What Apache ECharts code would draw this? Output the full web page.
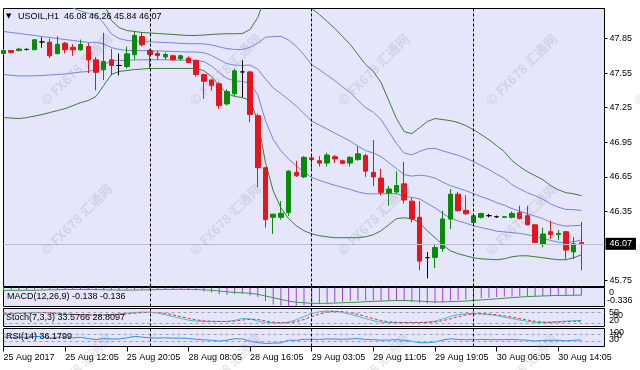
<!DOCTYPE html>
<html><head><meta charset="utf-8">
<script src="https://cdn.jsdelivr.net/npm/echarts@6/dist/echarts.min.js"></script>
<style>html,body{margin:0;padding:0;background:#fff}#c{width:640px;height:370px}</style>
</head><body><div id="c"></div>
<script>
const timeLabels = ['25 Aug 2017','25 Aug 12:05','25 Aug 20:05','28 Aug 08:05','28 Aug 16:05','29 Aug 03:05','29 Aug 11:05','29 Aug 19:05','30 Aug 06:05','30 Aug 14:05'];
const priceTicks = [45.75, 46.35, 46.65, 46.95, 47.25, 47.55, 47.85];
const separators = [19, 40, 61];
const lastPrice = 46.07;

const opens = [47.72,47.745,47.745,47.755,47.752,47.82,47.818,47.72,47.809,47.774,
 47.752,47.78,47.665,47.578,47.665,47.616,47.607,47.71,47.867,47.746,
 47.72,47.69,47.70,47.675,47.68,47.659,47.537,47.49,47.457,47.283,
 47.37,47.56,47.56,47.18,46.73,46.30,46.30,46.34,46.69,46.65,
 46.815,46.79,46.77,46.825,46.79,46.77,46.80,46.835,46.69,46.64,
 46.51,46.52,46.59,46.44,46.30,45.95,45.952,46.03,46.285,46.50,
 46.36,46.255,46.30,46.314,46.305,46.30,46.30,46.34,46.314,46.235,
 46.068,46.175,46.15,46.175,46.00,46.08];
const closes = [47.746,47.73,47.758,47.755,47.839,47.82,47.70,47.80,47.752,47.752,
 47.798,47.665,47.557,47.65,47.616,47.616,47.717,47.876,47.795,47.711,
 47.702,47.711,47.665,47.70,47.642,47.537,47.479,47.442,47.268,47.39,
 47.57,47.56,47.19,46.73,46.28,46.327,46.335,46.70,46.66,46.82,
 46.80,46.77,46.84,46.806,46.768,46.82,46.85,46.70,46.65,46.516,
 46.545,46.575,46.45,46.285,45.92,45.95,46.038,46.285,46.50,46.357,
 46.33,46.314,46.333,46.314,46.305,46.305,46.333,46.29,46.235,46.082,
 46.155,46.15,46.16,46.016,46.07,46.07];
const lows = [47.71,47.72,47.74,47.745,47.75,47.77,47.68,47.71,47.72,47.70,
 47.745,47.55,47.40,47.49,47.53,47.53,47.59,47.665,47.78,47.59,
 47.665,47.665,47.66,47.655,47.635,47.52,47.327,47.40,47.24,47.27,
 47.35,47.34,47.123,46.56,46.21,46.155,46.28,46.31,46.65,46.64,
 46.72,46.74,46.74,46.77,46.76,46.74,46.79,46.65,46.57,46.49,
 46.40,46.50,46.42,46.255,45.84,45.77,45.86,46.00,46.198,46.35,
 46.32,46.24,46.29,46.30,46.295,46.30,46.29,46.28,46.23,46.075,
 46.04,46.11,46.10,45.94,45.94,45.84];
const highs = [47.76,47.75,47.77,47.765,47.845,47.86,47.85,47.87,47.82,47.80,
 47.84,47.81,47.69,47.90,47.76,47.72,47.78,47.913,47.905,47.76,
 47.745,47.73,47.71,47.71,47.695,47.665,47.545,47.50,47.47,47.41,
 47.59,47.66,47.57,47.20,46.73,46.33,46.44,46.71,46.79,46.83,
 46.85,46.83,46.86,46.84,46.80,46.83,46.915,46.85,46.97,46.72,
 46.57,46.70,46.78,46.47,46.44,46.00,46.07,46.357,46.545,46.52,
 46.49,46.33,46.34,46.33,46.315,46.31,46.35,46.40,46.40,46.24,
 46.21,46.27,46.19,46.18,46.13,46.26];

const bbUpper2 = [48.657,48.644,48.631,48.605,48.575,48.544,48.510,48.475,48.440,48.397,
 48.353,48.319,48.284,48.163,48.006,47.945,47.919,47.911,47.902,47.898,
 47.893,47.889,47.885,47.880,47.876,47.876,47.880,47.885,47.889,47.891,
 47.891,47.893,47.928,48.032,48.223,48.310,48.362,48.353,48.301,48.215,
 48.110,48.058,47.998,47.937,47.867,47.798,47.711,47.624,47.564,47.468,
 47.312,47.156,47.043,47.025,47.077,47.130,47.156,47.147,47.138,47.121,
 47.095,47.060,47.017,46.973,46.921,46.869,46.791,46.739,46.695,46.661,
 46.626,46.574,46.539,46.513,46.504,46.487];
const bbUpper1 = [48.284,48.273,48.263,48.245,48.226,48.206,48.185,48.163,48.141,48.115,
 48.089,48.068,48.050,47.983,47.889,47.850,47.833,47.829,47.823,47.821,
 47.818,47.815,47.812,47.808,47.805,47.805,47.803,47.794,47.778,47.762,
 47.755,47.755,47.774,47.809,47.861,47.866,47.868,47.837,47.783,47.707,
 47.622,47.579,47.532,47.484,47.431,47.380,47.314,47.251,47.211,47.147,
 47.043,46.939,46.857,46.841,46.871,46.894,46.898,46.876,46.856,46.837,
 46.813,46.783,46.748,46.714,46.674,46.637,46.583,46.546,46.513,46.486,
 46.457,46.416,46.388,46.368,46.366,46.359];
const bbMid = [47.911,47.902,47.894,47.885,47.876,47.867,47.859,47.850,47.841,47.833,
 47.824,47.816,47.816,47.803,47.772,47.755,47.746,47.746,47.744,47.744,
 47.742,47.740,47.738,47.735,47.733,47.733,47.726,47.703,47.666,47.632,
 47.619,47.616,47.620,47.585,47.499,47.421,47.373,47.321,47.264,47.199,
 47.134,47.099,47.065,47.030,46.995,46.961,46.917,46.878,46.857,46.826,
 46.774,46.722,46.670,46.657,46.665,46.657,46.640,46.605,46.574,46.553,
 46.531,46.505,46.479,46.455,46.427,46.405,46.375,46.353,46.331,46.310,
 46.288,46.257,46.236,46.223,46.227,46.231];
const bbLower1 = [47.538,47.531,47.525,47.525,47.527,47.529,47.534,47.538,47.542,47.551,
 47.559,47.564,47.582,47.623,47.655,47.660,47.659,47.664,47.665,47.667,
 47.666,47.665,47.664,47.663,47.662,47.662,47.649,47.612,47.554,47.503,
 47.483,47.477,47.466,47.362,47.137,46.976,46.878,46.805,46.746,46.691,
 46.646,46.620,46.598,46.577,46.559,46.542,46.520,46.505,46.503,46.505,
 46.505,46.505,46.483,46.473,46.459,46.420,46.382,46.334,46.292,46.269,
 46.249,46.227,46.210,46.196,46.180,46.173,46.167,46.160,46.149,46.134,
 46.119,46.099,46.084,46.078,46.088,46.103];
const bbLower2 = [47.164,47.160,47.156,47.164,47.177,47.190,47.208,47.225,47.242,47.268,
 47.294,47.312,47.347,47.442,47.538,47.564,47.572,47.581,47.585,47.590,
 47.590,47.590,47.590,47.590,47.590,47.590,47.572,47.520,47.442,47.373,
 47.347,47.338,47.312,47.138,46.774,46.531,46.383,46.288,46.227,46.183,
 46.157,46.140,46.131,46.123,46.123,46.123,46.123,46.131,46.149,46.183,
 46.235,46.288,46.296,46.288,46.253,46.183,46.123,46.062,46.010,45.984,
 45.966,45.949,45.940,45.936,45.932,45.940,45.958,45.966,45.966,45.958,
 45.949,45.940,45.932,45.932,45.949,45.975];

const macd = [-0.05,-0.05,-0.05,-0.05,-0.04,-0.03,-0.03,-0.03,-0.03,-0.03,
 -0.03,-0.04,-0.05,-0.05,-0.05,-0.05,-0.05,-0.04,-0.03,-0.03,
 -0.03,-0.03,-0.03,-0.03,-0.04,-0.05,-0.07,-0.09,-0.12,-0.13,
 -0.12,-0.11,-0.14,-0.17,-0.24,-0.30,-0.33,-0.336,-0.33,-0.32,
 -0.31,-0.29,-0.27,-0.26,-0.25,-0.24,-0.23,-0.23,-0.23,-0.235,
 -0.24,-0.24,-0.245,-0.255,-0.27,-0.28,-0.28,-0.26,-0.235,-0.22,
 -0.21,-0.20,-0.19,-0.18,-0.17,-0.165,-0.16,-0.155,-0.155,-0.16,
 -0.155,-0.15,-0.145,-0.145,-0.14,-0.138];
const macdSignal = [-0.05,-0.05,-0.05,-0.05,-0.05,-0.045,-0.04,-0.04,-0.035,-0.035,
 -0.035,-0.035,-0.038,-0.04,-0.043,-0.045,-0.046,-0.045,-0.042,-0.04,
 -0.037,-0.035,-0.034,-0.033,-0.034,-0.036,-0.041,-0.049,-0.062,-0.076,
 -0.086,-0.094,-0.10,-0.12,-0.15,-0.18,-0.21,-0.24,-0.26,-0.27,
 -0.28,-0.28,-0.28,-0.275,-0.27,-0.265,-0.26,-0.25,-0.245,-0.24,
 -0.235,-0.23,-0.23,-0.235,-0.24,-0.25,-0.255,-0.255,-0.25,-0.245,
 -0.24,-0.23,-0.22,-0.21,-0.20,-0.19,-0.18,-0.17,-0.16,-0.155,
 -0.15,-0.145,-0.14,-0.14,-0.137,-0.136];
const stochK = [70,72,74,76,78,78,74,70,68,66,
 65,64,63,64,66,70,74,78,80,79,
 74,65,55,45,35,30,28,28,28,28,
 34,45,42,30,22,20,20,24,38,55,
 72,82,86,84,78,68,56,44,32,24,
 22,22,22,22,22,24,30,42,56,66,
 71,72,70,66,60,52,44,36,28,23,
 22,24,27,30,32,33.5766];
const stochD = [68,70,72,74,76,77,77,74,71,68,
 66,65,64,64,64,67,70,74,77,79,
 78,73,65,55,45,37,31,29,28,28,
 30,36,40,39,31,24,21,21,27,39,
 55,70,80,84,83,77,67,56,44,33,
 26,23,22,22,22,23,25,32,43,55,
 64,70,71,69,65,59,52,44,36,29,
 24,23,24,27,29,28.8097];
const rsi = [52,50,51,51,56,55,47,52,49,48,
 51,44,39,44,42,42,48,56,52,48,
 47,48,46,47,45,40,37,35,30,35,
 43,42,30,22,17,19,20,35,34,40,
 40,39,42,41,40,42,44,39,38,35,
 36,38,34,29,21,21,25,36,43,39,
 38,38,39,38,38,38,39,37,35,30,
 34,34,35,31,35,36.1799];
const macdRange = [-0.336, 0];
const stochLevels = [80, 20];
const rsiLevels = [70, 30];

const FONT = 'Liberation Sans, Arial, sans-serif';
const N = opens.length;
const cats = Array.from({length: N + 3}, (_, i) => String(i));
const candles = opens.map((o, i) => [o, closes[i], lows[i], highs[i]]);
const last = N - 1;

const chart = echarts.init(document.getElementById('c'), null, {renderer: 'canvas'});
const gridBase = {left: 3.5, width: 601, show: true, backgroundColor: '#E6E6FA', borderColor: '#000', borderWidth: 1};
const grids = [
  Object.assign({top: 8.5, height: 278}, gridBase),
  Object.assign({top: 287.5, height: 19}, gridBase),
  Object.assign({top: 308.5, height: 18}, gridBase),
  Object.assign({top: 328.5, height: 18}, gridBase)
];
function xAx(k, bottom) {
  return {
    type: 'category', gridIndex: k, data: cats, boundaryGap: false,
    axisLine: {show: false},
    axisTick: bottom ? {show: true, interval: 7, length: 5, lineStyle: {color: '#000'}} : {show: false},
    axisLabel: bottom ? {show: true, interval: 7, align: 'left', margin: 7, fontSize: 9, fontFamily: FONT, color: '#000',
      formatter: (v, idx) => (idx % 8 === 0 && timeLabels[idx / 8]) ? timeLabels[idx / 8] : ''} : {show: false},
    splitLine: {show: false}
  };
}
const sepLines = separators.map(s => ({xAxis: s}));
const sepStyle = {color: '#000', type: [3, 2], width: 1};
function levelMark(levels) {
  return {symbol: 'none', silent: true, animation: false, label: {show: false},
    data: [...levels.map(v => ({yAxis: v, lineStyle: {color: '#A0A0B4', type: [3, 3], width: 1}})),
           ...sepLines.map(d => Object.assign({lineStyle: sepStyle}, d))]};
}
function lineS(data, color, xi, yi, extra) {
  return Object.assign({type: 'line', data, xAxisIndex: xi, yAxisIndex: yi, symbol: 'none', showSymbol: false,
    lineStyle: {color, width: 1}, animation: false, silent: true, z: 3}, extra || {});
}

const graphics = [];
const wmCols = [43, 192, 340, 488, 636], wmRows = [103, 253, 403];
wmRows.forEach(y => wmCols.forEach(x => graphics.push({
  type: 'text', x, y, rotation: Math.PI / 4, silent: true, z: 100,
  style: {text: '© FX678 汇通网', fontSize: 13, fontWeight: 'bold', fontFamily: 'Noto Sans CJK SC',
          fill: 'rgba(140,140,165,0.22)', verticalAlign: 'middle'}
})));
const txt = (text, x, y, size) => ({type: 'text', x, y, z: 60, silent: true,
  style: {text, fontSize: size || 9, fontFamily: FONT, fill: '#000', verticalAlign: 'middle'}});
graphics.push({type: 'text', x: 6, y: 16, z: 60, silent: true, style: {text: '▼', fontSize: 7, fontFamily: 'DejaVu Sans', fill: '#000', verticalAlign: 'middle'}});
graphics.push(txt('USOIL,H1  ' + [opens[last], highs[last], lows[last], closes[last]].map(v => v.toFixed(2)).join(' '), 18, 16.5));
graphics.push(txt('MACD(12,26,9) ' + macd[last].toFixed(3) + ' ' + macdSignal[last].toFixed(3), 7, 296.5));
graphics.push(txt('Stoch(7,3,3) ' + stochK[last].toFixed(4) + ' ' + stochD[last].toFixed(4), 6, 317.5));
graphics.push(txt('RSI(14) ' + rsi[last].toFixed(4), 6, 337));
graphics.push(txt(String(macdRange[1]), 609, 293));
graphics.push(txt(macdRange[0].toFixed(3), 607, 301));
graphics.push(txt('50', 609, 312.5));
graphics.push(txt(String(stochLevels[0]), 613, 315.5));
graphics.push(txt(String(stochLevels[1]), 609, 320.5));
graphics.push(txt('100', 609, 332.5));
graphics.push(txt(String(rsiLevels[0]), 612, 336));
graphics.push(txt(String(rsiLevels[1]), 609, 340));

const option = {
  animation: false,
  backgroundColor: '#fff',
  grid: grids,
  xAxis: [xAx(0), xAx(1), xAx(2), xAx(3, true)],
  yAxis: [
    {type: 'value', gridIndex: 0, position: 'right', min: 45.70, max: 48.11, splitLine: {show: false},
     axisLine: {show: true, lineStyle: {color: '#000'}},
     axisTick: {show: true, length: 3, customValues: priceTicks, lineStyle: {color: '#000'}},
     axisLabel: {show: true, customValues: priceTicks, formatter: v => v.toFixed(2), margin: 5, fontSize: 9, fontFamily: FONT, color: '#000'}},
    {type: 'value', gridIndex: 1, min: macdRange[0], max: macdRange[1], show: false, splitLine: {show: false}},
    {type: 'value', gridIndex: 2, min: 0, max: 100, show: false, splitLine: {show: false}},
    {type: 'value', gridIndex: 3, min: 0, max: 100, show: false, splitLine: {show: false}}
  ],
  series: [
    {type: 'candlestick', data: candles, xAxisIndex: 0, yAxisIndex: 0, barWidth: 5, z: 4,
     itemStyle: {color: '#0A8A0A', color0: '#E8141C', borderColor: '#0A8A0A', borderColor0: '#E8141C', borderColorDoji: '#000', borderWidth: 1},
     markLine: {symbol: 'none', silent: true, animation: false,
       data: [{yAxis: lastPrice, lineStyle: {color: '#BDBDCB', type: 'solid', width: 1},
               label: {show: true, position: 'end', formatter: lastPrice.toFixed(2), color: '#fff', backgroundColor: '#000',
                       padding: [2, 4, 1, 4], fontSize: 9, fontFamily: FONT, distance: 1}},
              ...sepLines.map(d => Object.assign({lineStyle: sepStyle, label: {show: false}}, d))]}},
    lineS(bbUpper2, '#3D7A3D', 0, 0),
    lineS(bbUpper1, '#7186DA', 0, 0),
    lineS(bbMid, '#7186DA', 0, 0),
    lineS(bbLower1, '#7186DA', 0, 0),
    lineS(bbLower2, '#3D7A3D', 0, 0),
    {type: 'bar', data: macd, xAxisIndex: 1, yAxisIndex: 1, barWidth: 1, itemStyle: {color: '#A040D8'}, silent: true,
     markLine: levelMark([])},
    lineS(macdSignal, '#3C9A3C', 1, 1),
    lineS(stochK, '#45C0C4', 2, 2, {markLine: levelMark(stochLevels)}),
    lineS(stochD, '#E0303A', 2, 2, {lineStyle: {color: '#E0303A', width: 1, type: [3, 2]}}),
    lineS(rsi, '#2C8FE8', 3, 3, {markLine: levelMark(rsiLevels)})
  ],
  graphic: graphics
};
chart.setOption(option);
</script></body></html>
